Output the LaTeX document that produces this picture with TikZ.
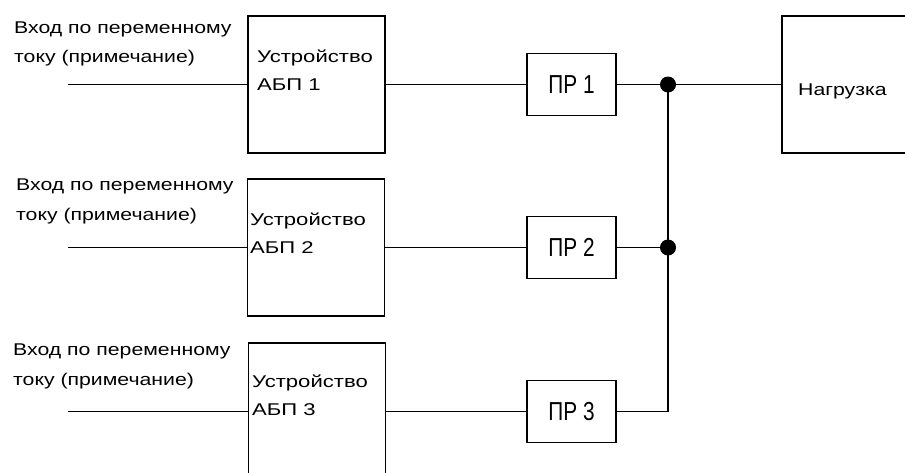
\documentclass[tikz,border=0pt]{standalone}
\usepackage{fontspec}
\setmainfont{Liberation Sans}
\newfontfamily\lblfont[FakeStretch=1.25]{Liberation Sans}
\newfontfamily\boxfont[FakeStretch=1.3]{Liberation Sans}
\newfontfamily\prfont[FakeStretch=0.8]{Liberation Sans}
\begin{document}
\begin{tikzpicture}[x=1pt,y=-1pt,
  wire/.style={line width=1.8pt},
  blk/.style={draw,line width=1.8pt,inner sep=0pt,minimum width=137pt,minimum height=137pt},
  prbox/.style={draw,line width=1.8pt,inner sep=0pt,minimum width=89pt,minimum height=62pt,font=\prfont\fontsize{26}{26}\selectfont},
  lbl/.style={anchor=base west,inner sep=0pt,font=\lblfont\fontsize{17}{17}\selectfont},
  btxt/.style={anchor=base west,inner sep=0pt,font=\boxfont\fontsize{17}{17}\selectfont},
  junc/.style={circle,fill=black,inner sep=0pt,minimum size=16pt}]
\useasboundingbox (0,0) rectangle (905,472);
% devices
\node[blk] (u1) at (316.5,84.5) {};
\node[blk] (u2) at (316,247.5) {};
\node[blk] (u3) at (317,411.5) {};
% switches
\node[prbox] (p1) at (571.5,84.5) {ПР 1};
\node[prbox] (p2) at (571.5,247.5) {ПР 2};
\node[prbox] (p3) at (571.5,411.5) {ПР 3};
% load
\node[blk,minimum width=140pt] (load) at (852,84.5) {};
\node[lbl] (loadt) at (798,95) {Нагрузка};
% texts in devices
\node[btxt] (u1a) at (257,62) {Устройство};
\node[btxt] (u1b) at (257,90) {АБП 1};
\node[btxt] (u2a) at (250,225) {Устройство};
\node[btxt] (u2b) at (250,253) {АБП 2};
\node[btxt] (u3a) at (252,387) {Устройство};
\node[btxt] (u3b) at (252,415) {АБП 3};
% input labels
\node[lbl] (l1a) at (14,33) {Вход по переменному};
\node[lbl] (l1b) at (14,62) {току (примечание)};
\node[lbl] (l2a) at (16,190) {Вход по переменному};
\node[lbl] (l2b) at (16,220) {току (примечание)};
\node[lbl] (l3a) at (13,355) {Вход по переменному};
\node[lbl] (l3b) at (13,385) {току (примечание)};
% input line ends
\coordinate (i1) at (68,84.5);
\coordinate (i2) at (68,247.5);
\coordinate (i3) at (68,411.5);
% junctions
\node[junc] (j1) at (668,84.5) {};
\node[junc] (j2) at (668,247.5) {};
\coordinate (c3) at (668,411.5);
% wires
\draw[wire] (i1) -- (u1.west);
\draw[wire] (i2) -- (u2.west);
\draw[wire] (i3) -- (u3.west);
\draw[wire] (u1.east) -- (p1.west);
\draw[wire] (u2.east) -- (p2.west);
\draw[wire] (u3.east) -- (p3.west);
\draw[wire] (p1.east) -- (j1.center) -- (load.west);
\draw[wire] (p2.east) -- (j2.center);
\draw[wire] (p3.east) -- (c3) -- (j2.center) -- (j1.center);
\end{tikzpicture}
\end{document}
